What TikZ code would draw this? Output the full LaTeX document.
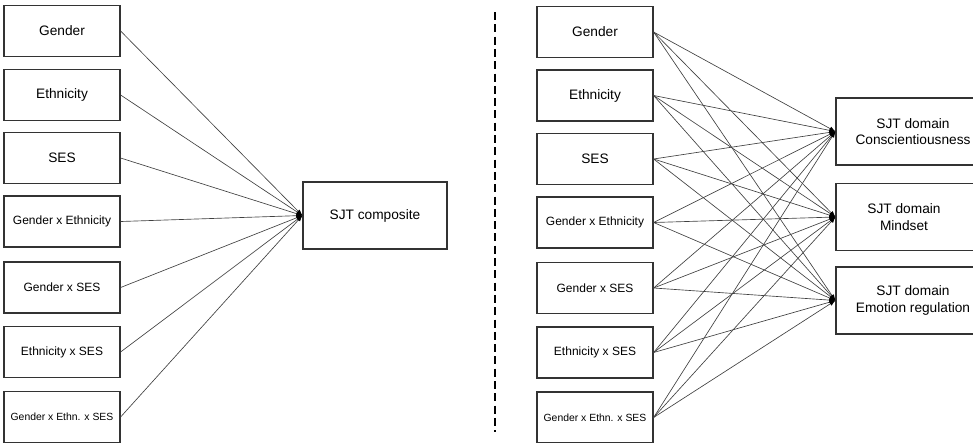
\documentclass[tikz,border=0pt]{standalone}
\usepackage{fontspec}
\setmainfont{Liberation Sans}
\usetikzlibrary{arrows.meta}
\begin{document}
\begin{tikzpicture}[x=1pt,y=-1pt,
  box/.style={draw=black!80,line width=1.2pt,minimum width=116pt,minimum height=51pt,inner sep=0pt,align=center,text=black,font=\fontsize{13.7}{16.6}\selectfont},
  sbox/.style={box,font=\fontsize{12}{14}\selectfont},
  xbox/.style={box,font=\fontsize{10.4}{12}\selectfont},
  tbox/.style={box,minimum width=154pt,minimum height=67pt},
  conn/.style={draw=black!75,line width=0.65pt,-{Latex[length=6pt,width=4.5pt,black]}},
  sep/.style={draw=black,line width=2.4pt,dash pattern=on 8pt off 4.3pt}]
\useasboundingbox (0,0) rectangle (973,442);
% left panel
\node[box]  (l1) at (62,31)    {Gender};
\node[box]  (l2) at (62,95)    {Ethnicity};
\node[box]  (l3) at (62,158)   {SES};
\node[sbox] (l4) at (62,221.5) {Gender x Ethnicity};
\node[sbox] (l5) at (62,287.5) {Gender x SES};
\node[sbox] (l6) at (62,352)   {Ethnicity x SES};
\node[xbox] (l7) at (62,417)   {Gender x Ethn. x SES};
\node[box,minimum width=144pt,minimum height=67pt] (comp) at (375,215.5) {SJT composite};
\foreach \i in {1,...,7} \draw[conn] (l\i.east) -- (comp.west);
% separator
\coordinate (s1) at (495,12);
\coordinate (s2) at (495,432);
\draw[sep] (s1) -- (s2);
% right panel
\node[box]  (r1) at (595,32)    {Gender};
\node[box]  (r2) at (595,95.5)  {Ethnicity};
\node[box]  (r3) at (595,159)   {SES};
\node[sbox] (r4) at (595,222.5) {Gender x Ethnicity};
\node[sbox] (r5) at (595,288)   {Gender x SES};
\node[sbox] (r6) at (595,352.5) {Ethnicity x SES};
\node[xbox] (r7) at (595,417.5) {Gender x Ethn. x SES};
\node[tbox] (t1) at (913,131.5) {SJT domain\\Conscientiousness};
\node[tbox] (t2) at (913,217)   {SJT domain\hspace*{18pt}\\Mindset\hspace*{18pt}};
\node[tbox] (t3) at (913,300.5) {SJT domain\\Emotion regulation};
\foreach \i in {1,...,7} \foreach \j in {1,2,3} \draw[conn] (r\i.east) -- (t\j.west);
\end{tikzpicture}
\end{document}
